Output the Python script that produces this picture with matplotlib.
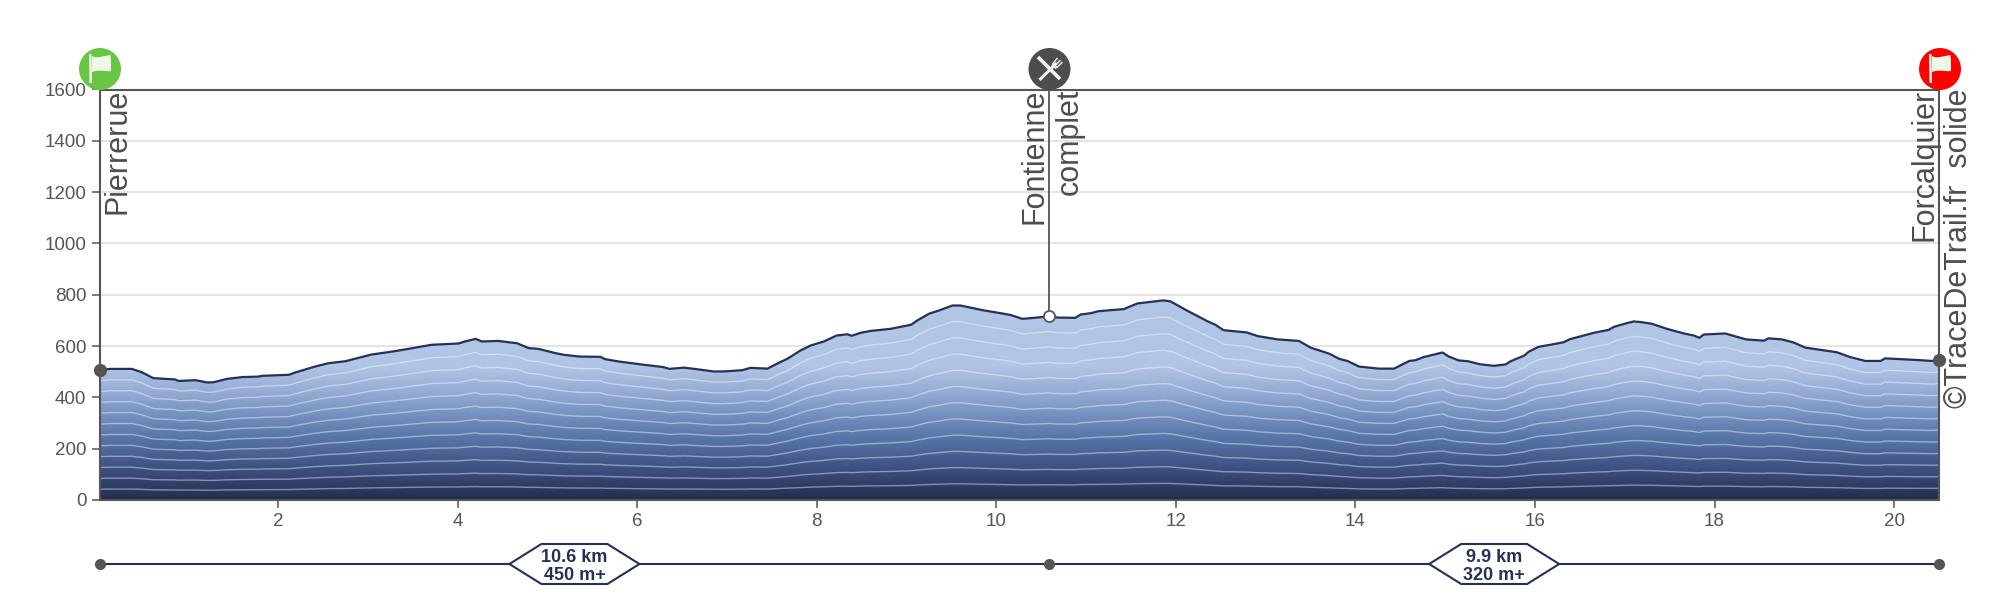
#import dependencies
import numpy as np
import matplotlib
matplotlib.use("Agg")
import matplotlib.pyplot as plt
from matplotlib.colors import LinearSegmentedColormap
from matplotlib.patches import Circle, PathPatch, Polygon
from matplotlib.path import Path

plt.rcParams['font.family'] = ['Liberation Sans', 'DejaVu Sans']

#profile
dist_km = [0.01, 0.13, 0.37, 0.48, 0.61, 0.85, 0.89, 1.08, 1.21, 1.28, 1.43, 1.60, 1.78, 1.82, 2.12, 2.19, 2.41,
           2.56, 2.75, 3.04, 3.30, 3.71, 4.01, 4.08, 4.20, 4.27, 4.45, 4.66, 4.79, 4.90, 5.07, 5.18, 5.36, 5.59,
           5.64, 5.79, 6.03, 6.29, 6.36, 6.52, 6.66, 6.85, 6.96, 7.17, 7.26, 7.45, 7.59, 7.67, 7.82, 7.93, 8.08,
           8.22, 8.34, 8.39, 8.49, 8.60, 8.82, 9.05, 9.12, 9.25, 9.38, 9.51, 9.60, 9.86, 10.05, 10.16, 10.29,
           10.42, 10.59, 10.69, 10.88, 10.94, 11.05, 11.14, 11.42, 11.57, 11.86, 11.94, 12.12, 12.35, 12.44,
           12.53, 12.79, 12.91, 13.13, 13.37, 13.50, 13.71, 13.82, 13.91, 14.04, 14.26, 14.43, 14.60, 14.67,
           14.76, 14.97, 15.04, 15.15, 15.25, 15.39, 15.54, 15.67, 15.73, 15.88, 15.93, 16.04, 16.17, 16.32,
           16.39, 16.66, 16.82, 16.88, 17.01, 17.10, 17.19, 17.30, 17.47, 17.66, 17.77, 17.83, 17.88, 18.12,
           18.25, 18.35, 18.55, 18.60, 18.75, 18.88, 19.01, 19.22, 19.36, 19.51, 19.68, 19.85, 19.90, 20.29,
           20.42, 20.50]
elev_m = [507, 511, 511, 498, 475, 470, 464, 467, 458, 459, 472, 479, 481, 484, 488, 497, 520,
          533, 541, 567, 580, 605, 610, 618, 628, 618, 620, 611, 592, 589, 574, 566, 559, 558,
          549, 540, 529, 518, 511, 516, 510, 501, 501, 506, 515, 512, 537, 550, 583, 602, 618,
          641, 646, 640, 652, 659, 667, 683, 700, 726, 741, 758, 758, 739, 728, 721, 706,
          710, 716, 711, 710, 723, 728, 736, 744, 766, 778, 774, 739, 697, 683,
          662, 653, 639, 626, 620, 594, 570, 550, 542, 520, 512, 512, 542, 545,
          557, 575, 559, 544, 541, 529, 523, 528, 541, 563, 578, 597, 605, 615,
          627, 652, 663, 675, 688, 696, 693, 687, 667, 649, 641, 632, 645, 649,
          636, 626, 621, 630, 626, 614, 594, 583, 576, 557, 542, 542, 552, 545,
          542, 545]

#waypoints and stages
way_km = [0.01, 10.59, 20.50]
way_elev = [507, 716, 545]
stage_len = [10.6, 9.9]
stage_gain = [450, 320]
y_ticks = [0, 200, 400, 600, 800, 1000, 1200, 1400, 1600]
x_ticks = [2, 4, 6, 8, 10, 12, 14, 16, 18, 20]
n_bands = 12

GREY = '#555555'
NAVY = '#24305a'
W, H = 2000, 600

fig = plt.figure(figsize=(20, 6), dpi=100)
ax = fig.add_axes([99.5 / W, 1 - 500 / H, (1939 - 99.5) / W, (500 - 89.5) / H])
ax.set_xlim(0.01, 20.5)
ax.set_ylim(0, 1600)

#gridlines
ax.set_axisbelow(True)
ax.grid(axis='y', color='#e4e4e4', lw=1.4)
for s in ax.spines.values():
    s.set_color(GREY)
    s.set_linewidth(1.5)
    s.set_zorder(6)
ax.set_xticks(x_ticks)
ax.set_yticks(y_ticks)
ax.tick_params(axis='both', length=5.5, width=1.1, color=GREY, labelcolor=GREY, labelsize=13.5, pad=4)

#gradient under the profile, fixed in height
stops = [(0.0, '#232d4d'), (100 / 520, '#39497a'), (250 / 520, '#5a78ab'), (400 / 520, '#8ea6d0'), (1.0, '#b1c5e5')]
cmap = LinearSegmentedColormap.from_list('relief', stops)
grad = np.linspace(0, 1, 520).reshape(-1, 1)
img = ax.imshow(grad, extent=(0.01, 20.5, 0, 520), origin='lower', aspect='auto', cmap=cmap, zorder=2)
ax.set_xlim(0.01, 20.5)
ax.set_ylim(0, 1600)
top_fill = ax.fill_between(dist_km, 520, np.maximum(elev_m, 520), color='#b1c5e5', lw=0, zorder=2)
poly = ax.fill_between(dist_km, 0, elev_m, color='none', lw=0)
clip = Path.make_compound_path(*poly.get_paths())
img.set_clip_path(clip, transform=ax.transData)

#contour lines, each a share of the elevation
elev = np.array(elev_m, dtype=float)
for i in range(1, n_bands):
    ax.plot(dist_km, elev * i / n_bands, color='white', lw=1.0, alpha=0.42, zorder=3)
ax.plot(dist_km, elev_m, color=NAVY, lw=1.6, zorder=4)

#waypoint masts and markers
ax.plot([way_km[1], way_km[1]], [way_elev[1], 1600], color=GREY, lw=1.3, zorder=5)
ax.plot(way_km[1], way_elev[1], 'o', ms=8, mfc='white', mec=GREY, mew=1.3, zorder=7)
ax.plot([way_km[0], way_km[2]], [way_elev[0], way_elev[2]], 'o', ls='', ms=8.5, color=GREY, clip_on=False, zorder=7)

#vertical labels, anchored on their baseline
labels = [('Pierrerue', 0.01, 26), ('Fontienne', 10.59, -7), ('complet', 10.59, 28),
          ('Forcalquier', 20.5, -6), ('©TraceDeTrail.fr  solide', 20.5, 28)]
for txt, km, off in labels:
    ax.annotate(txt, xy=(km, 1600), xytext=(off, 1), textcoords='offset pixels', rotation=90,
                rotation_mode='anchor', ha='right', va='baseline', fontsize=22, color='#4d4d4d',
                annotation_clip=False, zorder=8)

#stage bar below the chart
bar = fig.add_axes([99.5 / W, 1 - 590 / H, (1939 - 99.5) / W, 50 / H])
bar.set_xlim(0.01, 20.5)
bar.set_ylim(590, 540)
bar.axis('off')
BAR_Y = 564
bar.plot([way_km[0], way_km[2]], [BAR_Y, BAR_Y], color=NAVY, lw=1.5, zorder=1)
bar.plot(way_km, [BAR_Y] * 3, 'o', ms=7, color=GREY, clip_on=False, zorder=2)
km_per_px = (20.5 - 0.01) / (1939 - 99.5)
for i in range(2):
    mid = (way_km[i] + way_km[i + 1]) / 2
    wide, narrow = 65 * km_per_px, 33 * km_per_px
    hexa = [(mid - wide, BAR_Y), (mid - narrow, 544), (mid + narrow, 544),
            (mid + wide, BAR_Y), (mid + narrow, 584), (mid - narrow, 584)]
    bar.add_patch(Polygon(hexa, closed=True, fc='white', ec=NAVY, lw=1.5, zorder=3))
    bar.text(mid, 557, f'{stage_len[i]} km', ha='center', va='center', fontsize=13, fontweight='bold', color=NAVY, zorder=4)
    bar.text(mid, 576, f'{stage_gain[i]} m+', ha='center', va='center', fontsize=13, fontweight='bold', color=NAVY, zorder=4)


#round icons, drawn in figure pixels
def to_fig(cx, pts):
    return [(cx + px, H - 69 - py) for px, py in pts]


def flag(cx, color):
    fig.add_artist(Circle((cx, H - 69), 21, fc=color, ec='none', transform=None, zorder=9))
    pole = [(-11, -15), (-8.5, -15), (-8, 14), (-10.5, 14)]
    fig.add_artist(Polygon(to_fig(cx, pole), closed=True, fc='#eef7ea', ec='none', transform=None, zorder=10))
    verts = to_fig(cx, [(-8, -13), (-3, -10), (3, -13), (10.5, -14), (11, -7), (11, 2), (5, 3), (0, 0), (-8, 3), (-8, -13)])
    codes = [Path.MOVETO, Path.CURVE4, Path.CURVE4, Path.CURVE4, Path.LINETO, Path.LINETO,
             Path.CURVE4, Path.CURVE4, Path.CURVE4, Path.CLOSEPOLY]
    fig.add_artist(PathPatch(Path(verts, codes), fc='#eef7ea', ec='none', transform=None, zorder=10))


flag(100, '#69c645')
flag(1940, '#ff0000')

#knife and fork
cx = 1049.5
fig.add_artist(Circle((cx, H - 69), 21, fc='#4d4d4d', ec='none', transform=None, zorder=9))
strokes = [([(-11.5, -12), (10.5, 10)], 2.6), ([(-10, 11), (7, -6)], 2.2), ([(3, -5), (8, -11)], 1.0),
           ([(5, -3), (11, -9)], 1.0), ([(7, -1), (13, -7)], 1.0), ([(3, -5), (7, -1)], 2.2)]
for pts, lw in strokes:
    p = to_fig(cx, pts)
    fig.add_artist(plt.Line2D([p[0][0], p[1][0]], [p[0][1], p[1][1]], color='#f2f2f2', lw=lw,
                              transform=None, zorder=10, solid_capstyle='butt'))

fig.savefig('out.png', dpi=100)
